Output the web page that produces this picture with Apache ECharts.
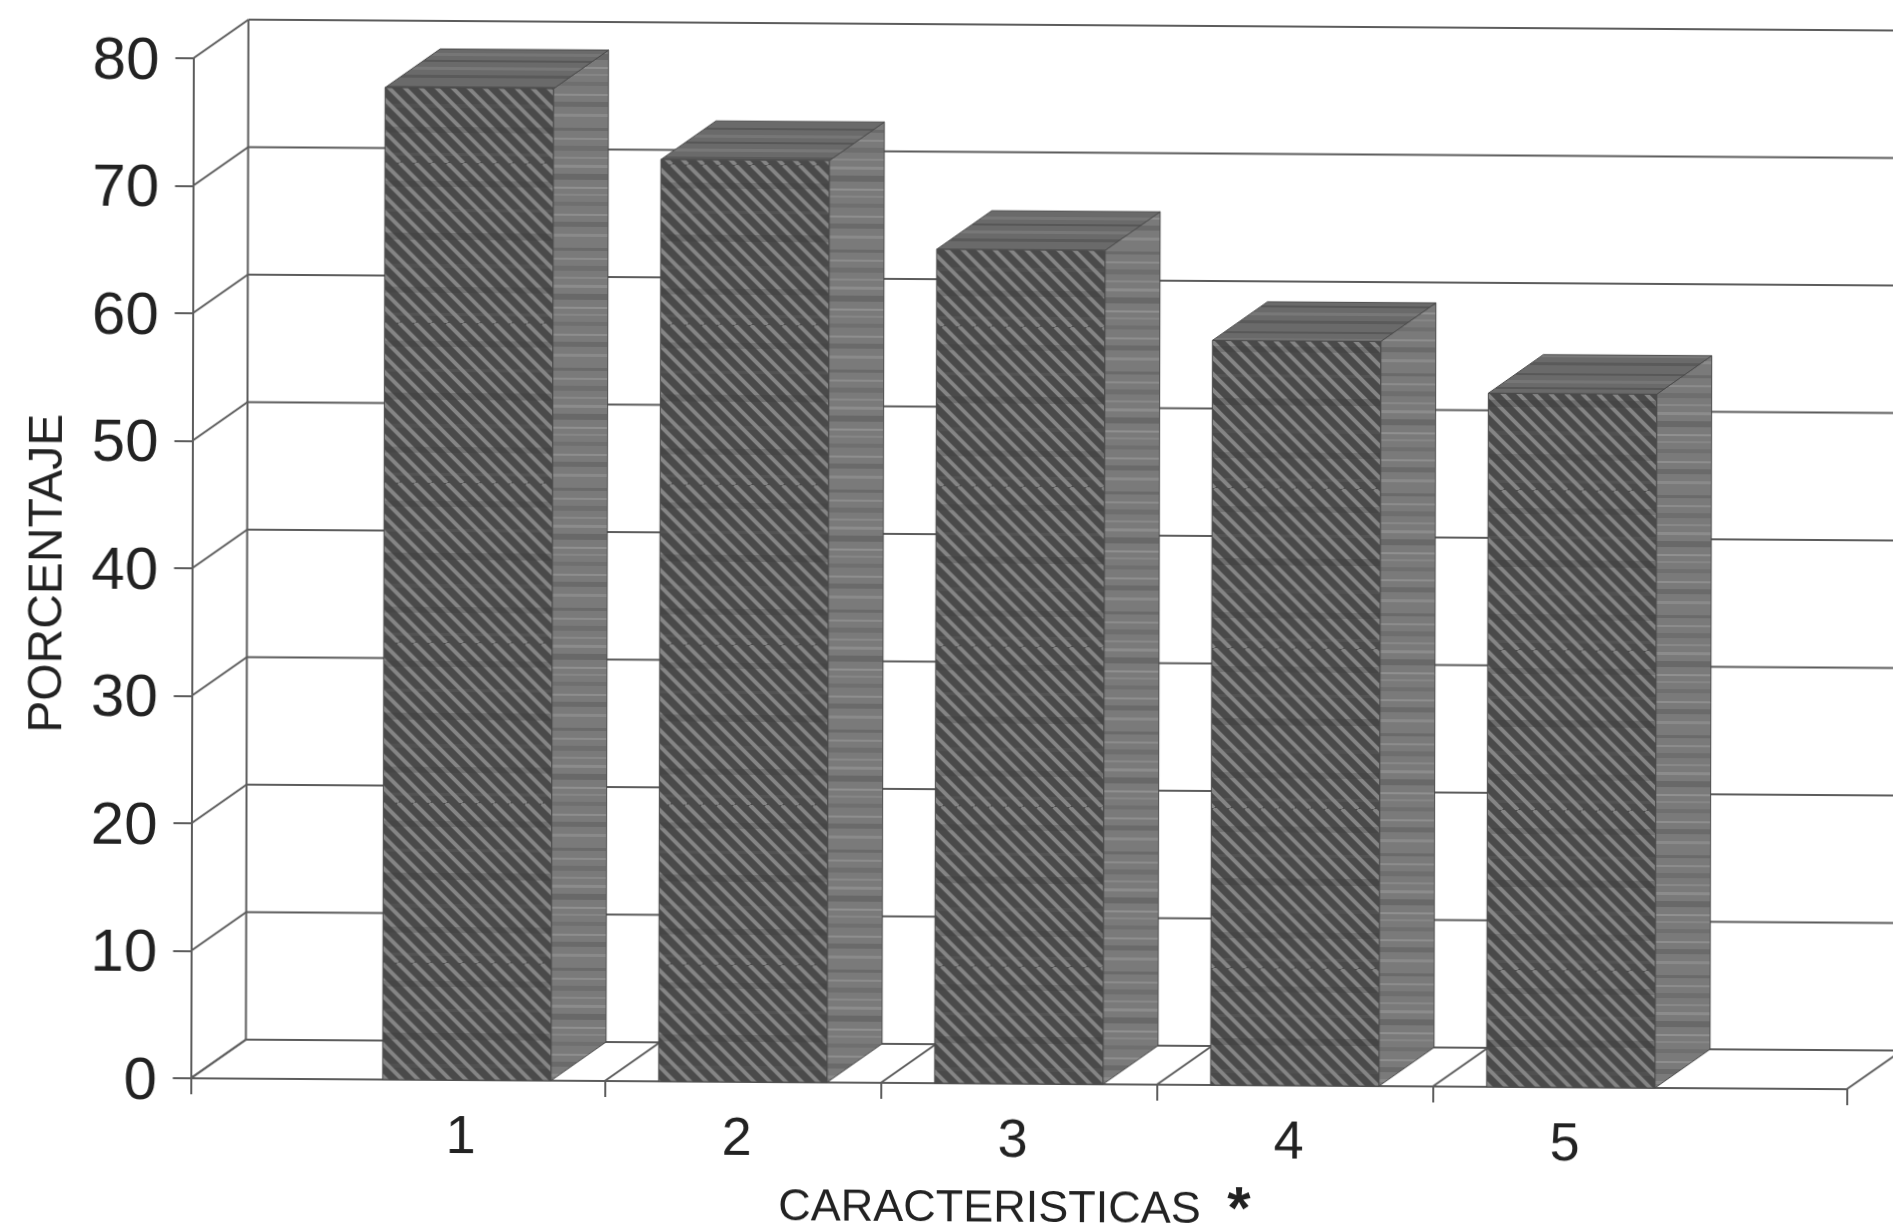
<!DOCTYPE html>
<html>
<head>
<meta charset="utf-8">
<style>
  html, body { margin: 0; padding: 0; background: #fff; overflow: hidden; }
  #main { width: 1960px; height: 1228px; transform-origin: 0 0; transform: matrix(1, 0.0066, -0.0025, 1, 0, 0); filter: blur(0.7px); }
</style>
<script src="https://cdn.jsdelivr.net/npm/echarts@6/dist/echarts.min.js"></script>
</head>
<body>
<div id="main"></div>
<script>
const categories = [1, 2, 3, 4, 5]
const percentages = [77.8, 72.3, 65.4, 58.4, 54.4]
const yTicks = [0, 10, 20, 30, 40, 50, 60, 70, 80]
const xTicks = [0, 1.5, 2.5, 3.5, 4.5, 6]

const depthX = 55
const depthY = -39
const barWidth = 0.61
const lineColor = '#5c5c5c'
const textColor = '#222'
const fontName = 'Liberation Sans'

// fill textures of the bars, band rows are just
function texture(w, h, base, bands, hatch) {
  const c = document.createElement('canvas')
  c.width = w
  c.height = h
  const ctx = c.getContext('2d')
  ctx.fillStyle = base
  ctx.fillRect(0, 0, w, h)
  if (hatch) {
    ctx.strokeStyle = hatch
    ctx.lineWidth = 4
    for (let x = -h; x < w + h; x += 16) {
      ctx.beginPath()
      ctx.moveTo(x, 0)
      ctx.lineTo(x + h, h)
      ctx.stroke()
    }
  }
  bands.forEach(b => {
    ctx.fillStyle = b[2]
    ctx.fillRect(0, b[0], w, b[1])
  })
  return { image: c, repeat: 'repeat' }
}

const frontFill = texture(160, 160, '#4a4a4a', [
  [18, 6, 'rgba(60,60,60,.25)'], [46, 3, 'rgba(140,140,140,.12)'], [70, 7, 'rgba(60,60,60,.3)'],
  [101, 4, 'rgba(140,140,140,.1)'], [124, 6, 'rgba(60,60,60,.25)'], [150, 3, 'rgba(140,140,140,.12)']
], '#858585')
const sideFill = texture(40, 120, '#7a7a7a', [
  [4, 3, '#6a6a6a'], [14, 2, '#8c8c8c'], [22, 5, '#6e6e6e'], [33, 2, '#888'], [41, 3, '#8c8c8c'],
  [50, 6, '#686868'], [63, 2, '#909090'], [70, 2, '#868686'], [78, 4, '#6f6f6f'], [90, 2, '#8e8e8e'],
  [98, 5, '#6a6a6a'], [110, 3, '#8a8a8a']
])
const topFill = texture(40, 40, '#6a6a6a', [
  [3, 2, '#585858'], [10, 3, '#767676'], [17, 2, '#575757'], [24, 3, '#787878'], [32, 3, '#5a5a5a']
])

function renderWallLine(params, api) {
  const v = api.value(0)
  const front = api.coord([0, v])
  const end = api.coord([6, v])
  return {
    type: 'group',
    children: [
      { type: 'line', shape: { x1: front[0], y1: front[1], x2: front[0] + depthX, y2: front[1] + depthY }, style: { stroke: lineColor, lineWidth: 2, fill: null } },
      { type: 'line', shape: { x1: front[0] + depthX, y1: front[1] + depthY, x2: end[0] + depthX, y2: end[1] + depthY }, style: { stroke: lineColor, lineWidth: 2, fill: null } }
    ]
  }
}

function renderFloorLine(params, api) {
  const p = api.coord([api.value(0), 0])
  return {
    type: 'line',
    shape: { x1: p[0], y1: p[1], x2: p[0] + depthX, y2: p[1] + depthY },
    style: { stroke: lineColor, lineWidth: 2, fill: null }
  }
}

function renderBackAxis(params, api) {
  const a = api.coord([0, api.value(0)])
  const b = api.coord([0, api.value(1)])
  return {
    type: 'line',
    shape: { x1: a[0] + depthX, y1: a[1] + depthY, x2: b[0] + depthX, y2: b[1] + depthY },
    style: { stroke: lineColor, lineWidth: 2, fill: null }
  }
}

function renderBar(params, api) {
  const base = api.coord([api.value(0), 0])
  const top = api.coord([api.value(0), api.value(1)])
  const w = api.size([barWidth, 0])[0]
  const l = base[0] - w / 2
  const r = base[0] + w / 2
  const edge = { stroke: '#4a4a4a', lineWidth: 1 }
  return {
    type: 'group',
    children: [
      {
        type: 'polygon',
        shape: { points: [[r, top[1]], [r + depthX, top[1] + depthY], [r + depthX, base[1] + depthY], [r, base[1]]] },
        style: { fill: sideFill, ...edge }
      },
      {
        type: 'polygon',
        shape: { points: [[l, top[1]], [l + depthX, top[1] + depthY], [r + depthX, top[1] + depthY], [r, top[1]]] },
        style: { fill: topFill, ...edge }
      },
      {
        type: 'polygon',
        shape: { points: [[l, top[1]], [r, top[1]], [r, base[1]], [l, base[1]]] },
        style: { fill: frontFill, ...edge }
      }
    ]
  }
}

const myChart = echarts.init(document.getElementById('main'), null, { renderer: 'canvas' })
const option = {
  animation: false,
  backgroundColor: '#fff',
  grid: { left: 193.5, top: 57, width: 1656, height: 1020, outerBoundsMode: 'none' },
  xAxis: {
    type: 'value',
    min: 0,
    max: 6,
    interval: 1,
    splitLine: { show: false },
    axisLine: { show: true, onZero: false, lineStyle: { color: lineColor, width: 2 } },
    axisTick: { show: true, customValues: xTicks, length: 16, lineStyle: { color: lineColor, width: 2 } },
    axisLabel: {
      customValues: categories,
      margin: 31,
      padding: [0, 12, 0, 0],
      color: textColor,
      fontFamily: fontName,
      fontSize: 54
    },
    name: 'CARACTERISTICAS {s|*}',
    nameLocation: 'middle',
    nameGap: 96,
    nameTextStyle: {
      color: textColor,
      fontFamily: fontName,
      fontSize: 45,
      rich: { s: { fontFamily: fontName, fontSize: 60, fontWeight: 'bold', color: textColor, padding: [0, 8, 0, 14] } }
    }
  },
  yAxis: {
    type: 'value',
    min: 0,
    max: 80,
    interval: 10,
    splitLine: { show: false },
    axisLine: { show: true, onZero: false, lineStyle: { color: lineColor, width: 2 } },
    axisTick: { show: true, length: 18, lineStyle: { color: lineColor, width: 2 } },
    axisLabel: {
      margin: 34,
      verticalAlign: 'top',
      lineHeight: 8,
      color: textColor,
      fontFamily: fontName,
      fontSize: 60
    },
    name: 'PORCENTAJE',
    nameLocation: 'middle',
    nameGap: 120,
    nameTextStyle: { color: textColor, fontFamily: fontName, fontSize: 48, padding: [0, 12, 0, 0] }
  },
  series: [
    {
      type: 'custom',
      renderItem: renderWallLine,
      data: yTicks.map(v => [v]),
      encode: { y: 0 },
      silent: true,
      z: 1
    },
    {
      type: 'custom',
      renderItem: renderFloorLine,
      data: xTicks.map(v => [v]),
      encode: { x: 0 },
      silent: true,
      z: 1
    },
    {
      type: 'custom',
      renderItem: renderBackAxis,
      data: [[0, 80]],
      encode: { y: [0, 1] },
      silent: true,
      z: 1
    },
    {
      type: 'custom',
      renderItem: renderBar,
      data: categories.map((c, i) => [c, percentages[i]]),
      encode: { x: 0, y: 1 },
      z: 3
    }
  ]
}
option && myChart.setOption(option)
</script>
</body>
</html>
